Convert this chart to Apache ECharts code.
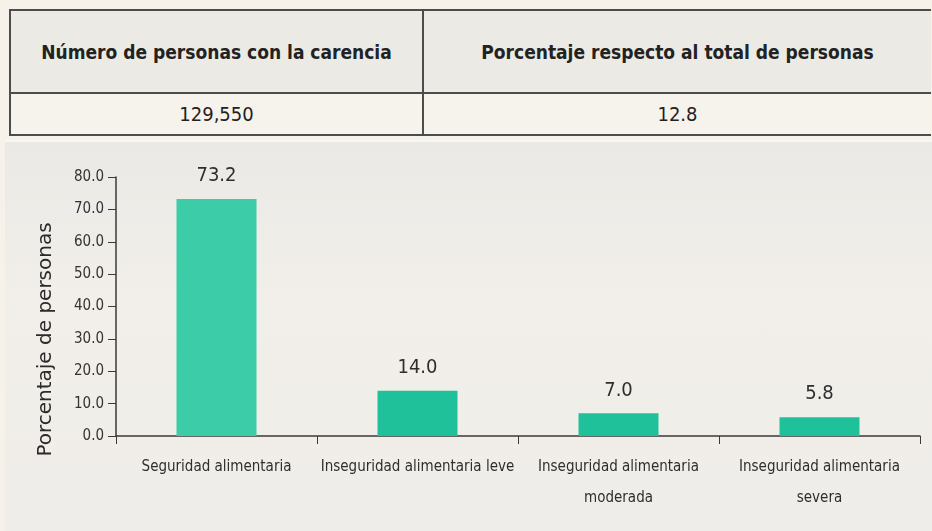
<!DOCTYPE html>
<html>
<head>
<meta charset="utf-8">
<script src="https://cdn.jsdelivr.net/npm/echarts@6/dist/echarts.min.js"></script>
<style>
    html, body {
        margin: 0;
        padding: 0;
        width: 932px;
        height: 531px;
        overflow: hidden;
        background: #f6f2ea;
        font-family: "Liberation Sans Narrow", "DejaVu Sans Condensed", "Liberation Sans", sans-serif;
    }
    .summary {
        position: absolute;
        left: 9px;
        top: 9px;
        width: 922px;
        border-collapse: collapse;
        color: #222;
    }
    .summary td {
        border: 2.5px solid #4b4d4c;
        text-align: center;
        padding: 0;
    }
    .summary td.c2 {
        border-right: none;
    }
    .summary tr.head td {
        height: 81px;
        background: #eceae5;
        font-weight: bold;
        font-size: 19px;
    }
    .summary tr.vals td {
        height: 40px;
        background: #f6f3ed;
        font-size: 20px;
    }
    .summary td.c1 {
        width: 411px;
    }
    .chart-container {
        position: absolute;
        left: 5px;
        top: 140px;
        width: 927px;
        height: 391px;
        background: linear-gradient(180deg, #eae9e5 0%, #f2efea 40%, #efede9 100%);
        border-top: 2px solid #f8f6f2;
    }
</style>
</head>
<body>
<table class="summary">
    <tr class="head">
        <td class="c1" id="h1"></td>
        <td class="c2" id="h2"></td>
    </tr>
    <tr class="vals">
        <td class="c1" id="v1"></td>
        <td class="c2" id="v2"></td>
    </tr>
</table>
<div class="chart-container">
    <div id="chart" style="width: 927px; height: 391px;"></div>
</div>
<script>
// summary table
const tableHeaders = ['Número de personas con la carencia', 'Porcentaje respecto al total  de personas'];
const tableValues = ['129,550', '12.8'];

// bar chart
const categories = [
    'Seguridad alimentaria',
    'Inseguridad alimentaria leve',
    'Inseguridad alimentaria\nmoderada',
    'Inseguridad alimentaria\nsevera',
];
const values = [73.2, 14.0, 7.0, 5.8];
const barColors = ['#3dcca8', '#1fc19b', '#1fc19b', '#1fc19b'];
const yAxisName = 'Porcentaje de personas';

document.getElementById('h1').textContent = tableHeaders[0];
document.getElementById('h2').textContent = tableHeaders[1];
document.getElementById('v1').textContent = tableValues[0];
document.getElementById('v2').textContent = tableValues[1];

const narrow = '"Liberation Sans Narrow", "DejaVu Sans Condensed", sans-serif';

const myChart = echarts.init(document.getElementById('chart'));

myChart.setOption({
    animation: false,
    grid: {
        left: 111,
        right: 12,
        top: 35,
        bottom: 97,
    },
    xAxis: {
        type: 'category',
        data: categories,
        axisLine: {
            lineStyle: { color: '#3a3a3a', width: 1.5 },
        },
        axisTick: {
            show: true,
            length: 8,
            lineStyle: { color: '#3a3a3a' },
        },
        axisLabel: {
            margin: 16,
            fontFamily: narrow,
            fontSize: 15,
            lineHeight: 31,
            color: '#2e2e2e',
            interval: 0,
        },
    },
    yAxis: {
        type: 'value',
        min: 0,
        max: 80,
        interval: 10,
        name: yAxisName,
        nameLocation: 'middle',
        nameGap: 60,
        nameTextStyle: {
            fontFamily: '"DejaVu Sans", sans-serif',
            fontSize: 20,
            color: '#2a2a2a',
            padding: [0, 66, 0, 0],
        },
        axisLine: {
            show: true,
            lineStyle: { color: '#3a3a3a', width: 1.5 },
        },
        axisTick: {
            show: true,
            length: 8,
            lineStyle: { color: '#3a3a3a' },
        },
        splitLine: { show: false },
        axisLabel: {
            margin: 12,
            fontFamily: narrow,
            fontSize: 15,
            color: '#333',
            formatter: (v) => v.toFixed(1),
        },
    },
    series: [
        {
            type: 'bar',
            barWidth: 80,
            data: values.map((v, i) => ({
                value: v,
                itemStyle: { color: barColors[i] },
            })),
            label: {
                show: true,
                position: 'top',
                distance: 13,
                fontFamily: narrow,
                fontSize: 20,
                color: '#2e2e2e',
                formatter: (p) => p.value.toFixed(1),
            },
        },
    ],
});
</script>
</body>
</html>
